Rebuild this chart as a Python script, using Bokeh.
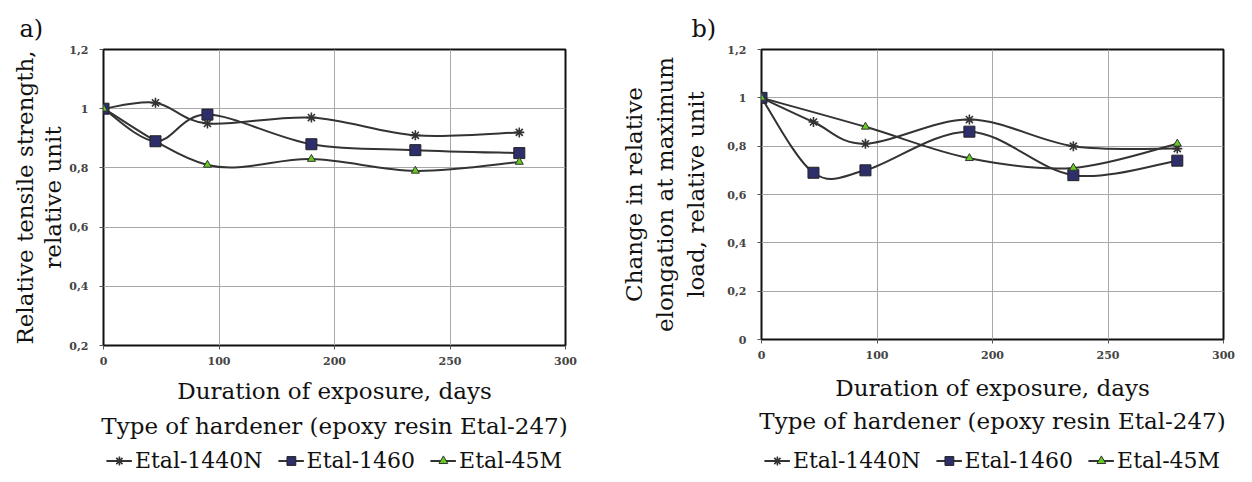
from bokeh.plotting import figure
from bokeh.models import Range1d, Legend, LegendItem, Title, ColumnDataSource
from bokeh.layouts import row, column
from bokeh.embed import file_html
from bokeh.resources import INLINE

# ---------------- data ----------------
series_names = ["Etal-1440N", "Etal-1460", "Etal-45M"]

x_tick_values = [0, 100, 200, 300, 400]
x_tick_labels = ["0", "100", "200", "250", "300"]

# panel a) relative tensile strength
a_days_1440n = [0, 45, 90, 180, 270, 360]
a_vals_1440n = [1.0, 1.02, 0.95, 0.97, 0.91, 0.92]
a_days_1460 = [0, 45, 90, 180, 270, 360]
a_vals_1460 = [1.0, 0.89, 0.98, 0.88, 0.86, 0.85]
a_days_45m = [0, 90, 180, 270, 360]
a_vals_45m = [1.0, 0.81, 0.83, 0.79, 0.82]
a_y_ticks = [0.2, 0.4, 0.6, 0.8, 1.0, 1.2]
a_y_labels = ["0,2", "0,4", "0,6", "0,8", "1", "1,2"]

# panel b) change in relative elongation at maximum load
b_days_1440n = [0, 45, 90, 180, 270, 360]
b_vals_1440n = [1.0, 0.90, 0.81, 0.91, 0.80, 0.79]
b_days_1460 = [0, 45, 90, 180, 270, 360]
b_vals_1460 = [1.0, 0.69, 0.70, 0.86, 0.68, 0.74]
b_days_45m = [0, 90, 180, 270, 360]
b_vals_45m = [1.0, 0.88, 0.75, 0.71, 0.81]
b_y_ticks = [0.0, 0.2, 0.4, 0.6, 0.8, 1.0, 1.2]
b_y_labels = ["0", "0,2", "0,4", "0,6", "0,8", "1", "1,2"]

FONT = "DejaVu Serif"
LINE = "#333333"
STYLES = [
    dict(marker="asterisk", size=10, fill_color=None, line_color="#333333", line_width=1.6),
    dict(marker="square", size=11, fill_color="#2e2e6b", line_color="#222222", line_width=1),
    dict(marker="triangle", size=8, fill_color="#66cc22", line_color="#333333", line_width=1),
]


def smooth_segments(xs, ys):
    """Bezier control points (Catmull-Rom style, like a spreadsheet 'smoothed line')."""
    n = len(xs)
    d = dict(x0=[], y0=[], x1=[], y1=[], cx0=[], cy0=[], cx1=[], cy1=[])
    for i in range(n - 1):
        im1 = max(i - 1, 0)
        ip2 = min(i + 2, n - 1)
        d["x0"].append(xs[i]); d["y0"].append(ys[i])
        d["x1"].append(xs[i + 1]); d["y1"].append(ys[i + 1])
        d["cx0"].append(xs[i] + (xs[i + 1] - xs[im1]) / 6.0)
        d["cy0"].append(ys[i] + (ys[i + 1] - ys[im1]) / 6.0)
        d["cx1"].append(xs[i + 1] - (xs[ip2] - xs[i]) / 6.0)
        d["cy1"].append(ys[i + 1] - (ys[ip2] - ys[i]) / 6.0)
    return ColumnDataSource(d)


def make_panel(letter, letter_offset, ylabel, y_start, y_end, y_ticks, y_labels,
               series, fw, fh, left, right, top, bottom, ylabel_standoff,
               ylabel_lh, xlabel_standoff, title_standoff):
    p = figure(frame_width=fw, frame_height=fh, x_range=Range1d(0, 400),
               y_range=Range1d(y_start, y_end), output_backend="svg",
               toolbar_location=None, min_border_left=left, min_border_right=right,
               min_border_top=top, min_border_bottom=bottom)
    p.background_fill_color = "white"
    p.border_fill_color = "white"
    p.outline_line_color = "#111111"
    p.outline_line_width = 2

    p.xaxis.ticker = x_tick_values
    p.xaxis.major_label_overrides = dict(zip(x_tick_values, x_tick_labels))
    p.yaxis.ticker = y_ticks
    p.yaxis.major_label_overrides = dict(zip(y_ticks, y_labels))
    for ax in (p.xaxis, p.yaxis):
        ax.axis_line_color = None
        ax.major_tick_in = 0
        ax.major_tick_out = 4
        ax.major_tick_line_color = "#555555"
        ax.minor_tick_line_color = None
        ax.major_label_text_font = FONT
        ax.major_label_text_font_size = "11px"
        ax.major_label_text_font_style = "bold"
        ax.major_label_text_color = "#444444"
        ax.axis_label_text_font = FONT
        ax.axis_label_text_font_size = "23px"
        ax.axis_label_text_font_style = "normal"
        ax.axis_label_text_color = "#111111"
    p.xaxis.major_label_standoff = 7
    p.yaxis.major_label_standoff = 11
    p.xaxis.axis_label = "Duration of exposure, days"
    p.xaxis.axis_label_standoff = xlabel_standoff
    p.yaxis.axis_label = ylabel
    p.yaxis.axis_label_standoff = ylabel_standoff
    p.yaxis.axis_label_text_line_height = ylabel_lh

    p.grid.grid_line_color = "#a8a8a8"
    p.grid.grid_line_width = 1

    for (name, xs, ys) in series:
        p.bezier(x0="x0", y0="y0", x1="x1", y1="y1", cx0="cx0", cy0="cy0",
                 cx1="cx1", cy1="cy1", source=smooth_segments(xs, ys),
                 line_color=LINE, line_width=2)
    for (name, xs, ys), st in zip(series, STYLES):
        p.scatter(xs, ys, **st)

    p.add_layout(Title(text="Type of hardener (epoxy resin Etal-247)", align="center",
                       text_font=FONT, text_font_size="23px", text_font_style="normal",
                       text_color="#111111", standoff=title_standoff), "below")
    p.add_layout(Title(text=letter, align="left", offset=letter_offset,
                       text_font=FONT, text_font_size="24px", text_font_style="normal",
                       text_color="#111111", standoff=13), "above")
    return p


def make_legend_fig(series, width, height):
    # legend strip; its own renderers use the series data, kept out of view
    f = figure(width=width, height=height, x_range=Range1d(1000, 1001),
               y_range=Range1d(1000, 1001), output_backend="svg",
               toolbar_location=None, min_border=0)
    f.axis.visible = False
    f.grid.visible = False
    f.outline_line_color = None
    f.background_fill_color = "white"
    f.border_fill_color = "white"
    items = []
    for (name, xs, ys), st in zip(series, STYLES):
        ln = f.line(xs, ys, line_color=LINE, line_width=2)
        r = f.scatter(xs, ys, **st)
        items.append(LegendItem(label=name, renderers=[ln, r]))
    legend = Legend(items=items, orientation="horizontal", location="center",
                    label_text_font=FONT, label_text_font_size="22px",
                    label_text_color="#111111", glyph_width=26, glyph_height=22,
                    label_height=22, label_standoff=3, spacing=15, padding=0,
                    margin=0, border_line_color=None, background_fill_alpha=0)
    f.add_layout(legend, "center")
    return f


series_a = [(series_names[0], a_days_1440n, a_vals_1440n),
            (series_names[1], a_days_1460, a_vals_1460),
            (series_names[2], a_days_45m, a_vals_45m)]
series_b = [(series_names[0], b_days_1440n, b_vals_1440n),
            (series_names[1], b_days_1460, b_vals_1460),
            (series_names[2], b_days_45m, b_vals_45m)]

pa = make_panel("a)", -84, "Relative tensile strength,\nrelative unit",
                0.2, 1.2, a_y_ticks, a_y_labels, series_a,
                fw=462, fh=296, left=103, right=45, top=49, bottom=100,
                ylabel_standoff=0, ylabel_lh=1.1, xlabel_standoff=10, title_standoff=9)
la = make_legend_fig(series_a, 610, 30)

pb = make_panel("b)", -70, "Change in relative\nelongation at maximum\nload, relative unit",
                0.0, 1.2, b_y_ticks, b_y_labels, series_b,
                fw=462, fh=290, left=151, right=15, top=49, bottom=106,
                ylabel_standoff=15, ylabel_lh=1.2, xlabel_standoff=13, title_standoff=5)
lb = make_legend_fig(series_b, 628, 30)

layout = row(column(pa, la), column(pb, lb))
open("out.html", "w").write(file_html(layout, INLINE))
